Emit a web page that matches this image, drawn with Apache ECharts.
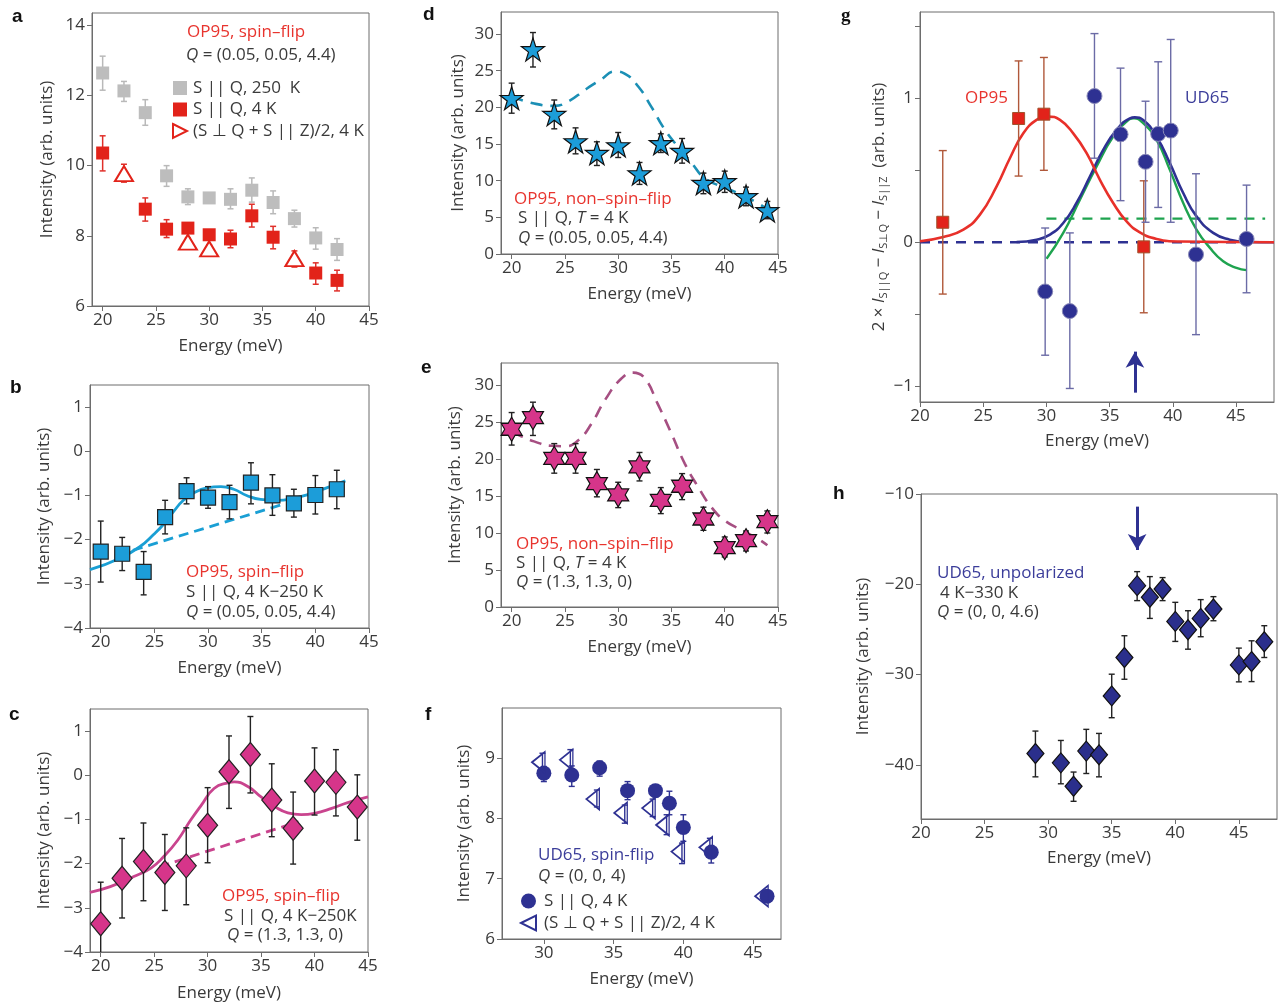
<!DOCTYPE html>
<html><head><meta charset="utf-8">
<script src="https://cdn.jsdelivr.net/npm/echarts@6/dist/echarts.min.js"></script>
<style>html,body{margin:0;padding:0;background:#fff}#c{width:1279px;height:1004px}</style>
</head><body><div id="c"></div>
<script>
// ---------- Panel a ----------
const aHotE = [20,22,24,26,28,30,32,34,36,38,40,42];
const aHotV = [12.64,12.13,11.51,9.71,9.11,9.08,9.04,9.3,8.95,8.49,7.94,7.61];
const aHotLo = [12.15,11.83,11.15,9.41,8.89,8.98,8.77,8.96,8.63,8.25,7.62,7.3];
const aHotHi = [13.12,12.4,11.88,10.0,9.34,9.18,9.34,9.65,9.28,8.73,8.23,7.92];
const aColdE = [20,24,26,28,30,32,34,36,40,42];
const aColdV = [10.36,8.76,8.19,8.22,8.03,7.91,8.57,7.96,6.94,6.73];
const aColdLo = [9.85,8.42,7.95,8.1,7.93,7.66,8.25,7.63,6.62,6.43];
const aColdHi = [10.85,9.08,8.46,8.34,8.13,8.16,8.9,8.27,7.23,7.02];
const aTriE = [22,28,30,38];
const aTriV = [9.77,7.82,7.63,7.35];
const aTriLo = [9.53,7.7,7.52,7.11];
const aTriHi = [10.04,7.94,7.74,7.57];
// ---------- Panel b ----------
const bE = [20,22,24,26,28,30,32,34,36,38,40,42];
const bV = [-2.27,-2.32,-2.73,-1.49,-0.9,-1.05,-1.15,-0.71,-1.0,-1.18,-0.99,-0.86];
const bLo = [-2.96,-2.7,-3.25,-1.87,-1.19,-1.29,-1.53,-1.19,-1.45,-1.49,-1.42,-1.3];
const bHi = [-1.58,-1.95,-2.27,-1.11,-0.6,-0.8,-0.77,-0.26,-0.53,-0.86,-0.55,-0.43];
const bFitE = [19,21.8,23.7,24.9,25.9,26.8,27.7,28.7,29.9,31.2,32.4,33.6,34.9,36.4,37.7,39.3,40.8,42.8];
const bFitV = [-2.68,-2.42,-2.15,-1.89,-1.64,-1.36,-1.11,-0.94,-0.83,-0.8,-0.86,-1.0,-1.09,-1.11,-1.08,-0.98,-0.85,-0.67];
const bBaseE = [23,37];
const bBaseV = [-2.24,-1.2];
// ---------- Panel c ----------
const cE = [20,22,24,26,28,30,32,34,36,38,40,42,44];
const cV = [-3.36,-2.33,-1.95,-2.2,-2.05,-1.13,0.08,0.47,-0.56,-1.2,-0.13,-0.16,-0.72];
const cLo = [-4.3,-3.23,-2.84,-3.06,-2.93,-1.98,-0.75,-0.4,-1.39,-2.01,-0.9,-0.92,-1.47];
const cHi = [-2.42,-1.43,-1.08,-1.34,-1.19,-0.28,0.89,1.33,0.26,-0.38,0.62,0.58,0.01];
const cFitE = [19,20.9,23.1,24.7,25.9,27.2,28.4,29.4,30.6,31.9,32.5,33.8,35,36.3,37.5,38.75,40,41.6,43.1,45];
const cFitV = [-2.65,-2.52,-2.29,-2.1,-1.84,-1.47,-1.02,-0.68,-0.3,-0.17,-0.15,-0.26,-0.49,-0.71,-0.85,-0.89,-0.86,-0.75,-0.62,-0.49];
const cBaseE = [25.5,38.5];
const cBaseV = [-2.07,-1.05];
// ---------- Panel d ----------
const dE = [20,22,24,26,28,30,32,34,36,38,40,42,44];
const dV = [21.24,27.9,19.07,15.34,13.75,14.8,10.98,15.1,14.03,9.67,9.9,7.85,5.95];
const dLo = [19.2,25.5,17.07,13.66,12.07,13.16,9.49,13.84,12.39,8.22,8.4,6.58,4.81];
const dHi = [23.3,30.2,21.0,17.2,15.3,16.57,12.48,16.39,15.75,11.03,11.3,9.12,7.17];
const dFitE = [20,22,24,25.3,26.9,28.4,29.7,30.6,31.9,33.1,34.4,35.6,36.9,38.1,39.7,41.25,43.1,44];
const dFitV = [21.47,20.56,20.2,20.8,22.4,23.8,24.9,24.6,22.8,20.1,16.9,14.66,12.4,10.35,9.2,8.3,6.94,6.04];
// ---------- Panel e ----------
const eE = [20,22,24,26,28,30,32,34,36,38,40,42,44];
const eV = [24.04,25.6,20.1,20.1,16.7,15.16,18.94,14.43,16.33,11.9,8.03,8.98,11.55];
const eLo = [21.9,23.2,18.1,18.1,14.9,13.44,17.05,12.63,14.52,10.37,6.77,7.58,10.01];
const eHi = [26.3,27.7,22.1,22.1,18.6,16.87,20.9,16.15,18.04,13.5,9.47,10.28,12.99];
const eFitE = [20,20.9,22.1,23.7,25,26.25,27.5,28.75,30.3,31.4,32.5,33.7,35,36.25,37.5,38.75,40,41.6,43.1,44];
const eFitV = [23.68,23.1,22.4,21.8,21.74,22.55,24.8,27.97,30.9,31.7,30.9,27.5,23.45,19.4,16.24,13.5,11.7,10.4,9.25,8.35];
// ---------- Panel f ----------
const fCircE = [30,32,34,36,38,39,40,42,46];
const fCircV = [8.75,8.72,8.84,8.46,8.46,8.25,7.85,7.44,6.71];
const fCircLo = [8.61,8.53,8.7,8.31,8.36,8.06,7.62,7.26,6.66];
const fCircHi = [8.86,8.87,8.95,8.61,8.56,8.45,8.06,7.55,6.76];
const fTriE = [29.9,31.9,33.8,35.8,37.8,38.8,39.9,41.9,45.9];
const fTriV = [8.93,8.97,8.32,8.09,8.17,7.89,7.45,7.52,6.71];
const fTriLo = [8.78,8.81,8.19,7.92,8.03,7.73,7.25,7.39,6.66];
const fTriHi = [9.08,9.14,8.47,8.22,8.32,8.06,7.59,7.67,6.76];
// ---------- Panel g ----------
const gOpE = [21.8,27.8,29.8,37.7];
const gOpV = [0.139,0.86,0.89,-0.032];
const gOpLo = [-0.36,0.46,0.5,-0.49];
const gOpHi = [0.637,1.26,1.284,0.427];
const gUdE = [29.9,31.85,33.8,35.86,37.84,38.84,39.83,41.83,45.83];
const gUdV = [-0.342,-0.478,1.016,0.75,0.559,0.753,0.776,-0.085,0.023];
const gUdLo = [-0.785,-1.016,0.584,0.289,0.139,0.242,0.139,-0.642,-0.351];
const gUdHi = [0.099,0.065,1.45,1.21,0.98,1.254,1.409,0.476,0.397];
const gRedFitE = [20,21.84,23.43,24.74,26.06,27.11,28.17,29.22,30.14,31.07,32.12,33.18,34.23,35.28,36.34,37.39,38.71,40.55,48];
const gRedFitV = [0.007,0.037,0.088,0.192,0.388,0.584,0.757,0.85,0.873,0.85,0.757,0.619,0.434,0.273,0.145,0.069,0.023,0.005,0];
const gNavyFitE = [27.64,29.22,30.28,31.33,32.38,33.44,34.49,35.55,36.6,37.0,37.65,38.71,39.76,40.82,41.87,43.19,44.5,45.82,48];
const gNavyFitV = [0.002,0.018,0.053,0.134,0.273,0.457,0.642,0.781,0.861,0.868,0.85,0.734,0.55,0.342,0.18,0.065,0.018,0.002,0];
const gGreenFitE = [30.01,31.33,32.65,33.97,35.28,36.34,36.92,37.65,38.71,39.76,40.82,41.87,42.93,43.98,45.03,45.82];
const gGreenFitV = [-0.115,0.065,0.296,0.527,0.734,0.838,0.861,0.827,0.711,0.503,0.273,0.088,-0.039,-0.132,-0.178,-0.194];
const gNavyBaseE = [20,46];
const gNavyBaseV = [0,0];
const gGreenBaseE = [30,47.3];
const gGreenBaseV = [0.164,0.164];
const gArrowX = 37, gArrowFrom = -1.045, gArrowTo = -0.76;
// ---------- Panel h ----------
const hE = [29,31,32,33,34,35,36,37,38,39,40,41,42,43,45,46,47];
const hV = [-38.74,-39.78,-42.37,-38.48,-38.89,-32.37,-28.11,-20.15,-21.44,-20.52,-24.11,-25.04,-23.78,-22.74,-28.93,-28.56,-26.37];
const hLo = [-41.33,-42.1,-44.04,-40.96,-41.33,-34.78,-30.52,-21.81,-23.78,-21.81,-26.33,-27.19,-25.81,-24.04,-30.81,-30.78,-28.11];
const hHi = [-36.26,-37.3,-40.8,-36.07,-36.52,-29.96,-25.7,-18.6,-19.15,-19.26,-22.0,-22.93,-21.7,-21.37,-27.07,-26.26,-24.59];
const hArrowX = 37, hArrowFrom = -11.4, hArrowTo = -16.2;
// ---------- Axis ticks ----------
const xTicksMain = [20,25,30,35,40,45];
const xTicksF = [30,35,40,45];
const yTicksA = [6,8,10,12,14];
const yTicksBC = [-4,-3,-2,-1,0,1];
const yTicksDE = [0,5,10,15,20,25,30];
const yTicksF = [6,7,8,9];
const yTicksG = [-1,-0.5,0,0.5,1,1.5];
const yLabelsG = [-1,0,1];
const yTicksH = [-40,-30,-20,-10];

const FONT = 'Open Sans';
const TXT = '#3a3a3a';
const RED = '#e8342e';
const NAVY = '#2e3192';
const FRAME = '#6d6d6d';

const zip = (a, b) => a.map((x, i) => [x, b[i]]);
const STAR5 = 'path://M50,0L61.8,35.1L98.9,35.1L68.8,56.9L80.3,92.1L50,70.4L19.7,92.1L31.2,56.9L1.1,35.1L38.2,35.1Z';
const STAR6 = 'path://M50,0L64.43,25L93.3,25L78.87,50L93.3,75L64.43,75L50,100L35.57,75L6.7,75L21.13,50L6.7,25L35.57,25Z';
const TRI_L = 'path://M0,50L100,0L100,100Z';
const TRI_R = 'path://M0,0L100,50L0,100Z';

function scatter(i, name, E, V, symbol, size, color, border, bw, extra) {
  return Object.assign({
    type: 'scatter', name, xAxisIndex: i, yAxisIndex: i, data: zip(E, V),
    symbol, symbolSize: size, z: 5,
    itemStyle: { color, borderColor: border, borderWidth: bw, opacity: 1 }
  }, extra || {});
}
function err(i, E, lo, hi, color, cap, w) {
  return {
    type: 'custom', xAxisIndex: i, yAxisIndex: i, z: 3, silent: true, clip: true,
    data: E.map((x, k) => [x, lo[k], hi[k]]),
    encode: { x: 0, y: [1, 2] },
    renderItem(params, api) {
      const p1 = api.coord([api.value(0), api.value(1)]);
      const p2 = api.coord([api.value(0), api.value(2)]);
      const st = { stroke: color, lineWidth: w || 1.4 };
      return { type: 'group', children: [
        { type: 'line', shape: { x1: p1[0], y1: p1[1], x2: p2[0], y2: p2[1] }, style: st },
        { type: 'line', shape: { x1: p1[0] - cap, y1: p1[1], x2: p1[0] + cap, y2: p1[1] }, style: st },
        { type: 'line', shape: { x1: p2[0] - cap, y1: p2[1], x2: p2[0] + cap, y2: p2[1] }, style: st }
      ]};
    }
  };
}
function curve(i, E, V, color, width, dash, smooth, z, extra) {
  return Object.assign({
    type: 'line', xAxisIndex: i, yAxisIndex: i, data: zip(E, V), showSymbol: false,
    smooth: smooth, z: z || 2, silent: true,
    lineStyle: { color, width, type: dash ? dash : 'solid' }
  }, extra || {});
}
const fmtNum = v => String(v).replace('-', '\u2212');
function xAxis(i, min, max, ticks, gap) {
  return {
    gridIndex: i, type: 'value', min, max,
    name: 'Energy (meV)', nameLocation: 'middle', nameGap: gap,
    nameTextStyle: { fontSize: 17, color: TXT, fontFamily: FONT },
    axisLine: { show: true, onZero: false, lineStyle: { color: FRAME, width: 1 } },
    axisTick: { show: true, inside: false, length: 5, customValues: ticks, lineStyle: { color: FRAME } },
    axisLabel: { customValues: ticks, fontSize: 17, color: TXT, fontFamily: FONT, margin: 6, formatter: fmtNum },
    splitLine: { show: false }
  };
}
function yAxis(i, min, max, ticks, labels, gap, name, rich) {
  return {
    gridIndex: i, type: 'value', min, max,
    name: name || 'Intensity (arb. units)', nameLocation: 'middle', nameGap: gap, nameRotate: 90,
    nameTextStyle: Object.assign({ fontSize: 17, color: TXT, fontFamily: FONT }, rich ? { rich } : {}),
    axisLine: { show: true, onZero: false, lineStyle: { color: FRAME, width: 1 } },
    axisTick: { show: true, inside: false, length: 5, customValues: ticks, lineStyle: { color: FRAME } },
    axisLabel: { customValues: labels || ticks, fontSize: 17, color: TXT, fontFamily: FONT, margin: 7, formatter: fmtNum },
    splitLine: { show: false }
  };
}
function txt(x, y, text, fill, size, extra) {
  const fs = size || 17;
  return Object.assign({
    type: 'text', x, y, z: 100, silent: true,
    style: {
      text, fill, fontSize: fs, fontFamily: FONT, verticalAlign: 'middle',
      rich: { i: { fontStyle: 'italic', fontSize: fs, fontFamily: FONT, fill } }
    }
  }, extra || {});
}
const letter = (x, y, t, serif) => ({
  type: 'text', x, y, z: 100, silent: true,
  style: { text: t, fill: '#111', fontSize: 19, fontWeight: 'bold', fontFamily: serif ? 'Liberation Serif' : 'Liberation Sans', verticalAlign: 'middle' }
});

const gridBase = { show: true, borderColor: FRAME, borderWidth: 1, backgroundColor: 'transparent' };
const grids = [
  { left: 92, top: 13, width: 277, height: 293 },
  { left: 90, top: 385, width: 279, height: 243 },
  { left: 90, top: 709, width: 278, height: 243 },
  { left: 501, top: 12, width: 277, height: 242 },
  { left: 501, top: 363, width: 277, height: 244 },
  { left: 502, top: 708, width: 279, height: 231 },
  { left: 920, top: 12, width: 354, height: 390 },
  { left: 921, top: 494, width: 356, height: 325 }
].map(g => Object.assign({}, gridBase, g));

const LA1 = 'S || Q, 250  K', LA2 = 'S || Q, 4 K', LA3 = '(S \u22a5 Q + S || Z)/2, 4 K';
const LF1 = 'S || Q, 4 K\u200b', LF2 = '(S \u22a5 Q + S || Z)/2, 4 K\u200b';

const gRich = {
  i: { fontStyle: 'italic', fontSize: 17, fontFamily: FONT, color: TXT, lineHeight: 22 },
  s: { fontSize: 11, fontFamily: FONT, color: TXT, verticalAlign: 'bottom', lineHeight: 22 }
};
const gName = '2 \u00d7 {i|I}{s|S||Q} \u2212 {i|I}{s|S\u22a5Q} \u2212 {i|I}{s|S||Z}  (arb. units)';

const CYAN = '#1c9dd9', MAG = '#d6358a';

const option = {
  animation: false,
  backgroundColor: '#fff',
  textStyle: { fontFamily: FONT },
  grid: grids,
  xAxis: [
    xAxis(0, 19, 45, xTicksMain, 32),
    xAxis(1, 19, 45, xTicksMain, 32),
    xAxis(2, 19, 45, xTicksMain, 33),
    xAxis(3, 19, 45, xTicksMain, 32),
    xAxis(4, 19, 45, xTicksMain, 32),
    xAxis(5, 27, 47, xTicksF, 32),
    xAxis(6, 20, 48, xTicksMain, 31),
    xAxis(7, 20, 48, xTicksMain, 31)
  ],
  yAxis: [
    yAxis(0, 6, 14.35, yTicksA, null, 36),
    yAxis(1, -4, 1.5, yTicksBC, null, 37),
    yAxis(2, -4, 1.5, yTicksBC, null, 37),
    yAxis(3, 0, 33, yTicksDE, null, 34),
    yAxis(4, 0, 33, yTicksDE, null, 37),
    yAxis(5, 6, 9.83, yTicksF, null, 29),
    yAxis(6, -1.11, 1.6, yTicksG, yLabelsG, 28, gName, gRich),
    yAxis(7, -46, -10, yTicksH, null, 49)
  ],
  legend: [
    {
      left: 167, top: 73, orient: 'vertical', itemGap: 1.5, itemWidth: 14, itemHeight: 14,
      selectedMode: false,
      textStyle: { fontSize: 17, color: TXT, fontFamily: FONT, lineHeight: 20, padding: [0, 0, 0, 1] },
      data: [
        { name: LA1, icon: 'rect' },
        { name: LA2, icon: 'rect' },
        { name: LA3, icon: TRI_R }
      ]
    },
    {
      left: 515, top: 886, orient: 'vertical', itemGap: 2, itemWidth: 15, itemHeight: 15,
      selectedMode: false,
      textStyle: { fontSize: 17, color: TXT, fontFamily: FONT, lineHeight: 20, padding: [0, 0, 0, 3] },
      data: [
        { name: LF1, icon: 'circle' },
        { name: LF2, icon: TRI_L }
      ]
    }
  ],
  series: [
    // a
    err(0, aHotE, aHotLo, aHotHi, '#b9b9b9', 3, 1.5),
    err(0, aColdE, aColdLo, aColdHi, '#e0302a', 3, 1.5),
    err(0, aTriE, aTriLo, aTriHi, '#e0302a', 3, 1.5),
    scatter(0, LA1, aHotE, aHotV, 'rect', 13, '#bdbdbd', '#bdbdbd', 0),
    scatter(0, LA2, aColdE, aColdV, 'rect', 13, '#e2231a', '#e2231a', 0),
    scatter(0, LA3, aTriE, aTriV, 'triangle', [18, 15], '#ffffff', '#e2231a', 2),
    // b
    curve(1, bFitE, bFitV, '#1a9fd4', 2.8, null, 0.5),
    curve(1, bBaseE, bBaseV, '#1a9fd4', 2.8, [10, 6], false),
    err(1, bE, bLo, bHi, '#222', 3, 1.4),
    scatter(1, 'b', bE, bV, 'rect', 15, CYAN, '#222', 1.2),
    // c
    curve(2, cFitE, cFitV, '#c9448e', 2.8, null, 0.5),
    curve(2, cBaseE, cBaseV, '#c9448e', 2.8, [10, 6], false),
    err(2, cE, cLo, cHi, '#222', 3, 1.4),
    scatter(2, 'c', cE, cV, 'diamond', [20, 24], MAG, '#222', 1.2),
    // d
    curve(3, dFitE, dFitV, '#1b8fb5', 2.6, [12, 8], 0.5),
    err(3, dE, dLo, dHi, '#222', 3, 1.4),
    scatter(3, 'd', dE, dV, STAR5, 23, CYAN, '#111', 1.2),
    // e
    curve(4, eFitE, eFitV, '#a64f82', 2.6, [12, 8], 0.5),
    err(4, eE, eLo, eHi, '#222', 3, 1.4),
    scatter(4, 'e', eE, eV, STAR6, [21, 24], MAG, '#111', 1.2),
    // f
    err(5, fCircE, fCircLo, fCircHi, NAVY, 3, 1.4),
    err(5, fTriE, fTriLo, fTriHi, NAVY, 3, 1.4),
    scatter(5, LF1, fCircE, fCircV, 'circle', 15, NAVY, NAVY, 0),
    scatter(5, LF2, fTriE, fTriV, TRI_L, [13, 21], 'rgba(255,255,255,0)', NAVY, 1.6, { symbolOffset: [-4, 0], z: 6 }),
    // g
    curve(6, gNavyBaseE, gNavyBaseV, '#2e3192', 2.4, [10, 8], false, 2),
    curve(6, gGreenBaseE, gGreenBaseV, '#1ea34f', 2.4, [10, 8], false, 2),
    curve(6, gGreenFitE, gGreenFitV, '#1ea34f', 2.4, null, 0.5, 2),
    curve(6, gNavyFitE, gNavyFitV, '#2e3192', 2.6, null, 0.5, 2, {
      markLine: {
        silent: true, symbol: ['none', 'arrow'], symbolSize: [14, 16], animation: false,
        lineStyle: { color: NAVY, width: 3, type: 'solid' }, label: { show: false },
        data: [[{ coord: [gArrowX, gArrowFrom] }, { coord: [gArrowX, gArrowTo] }]]
      }
    }),
    curve(6, gRedFitE, gRedFitV, '#e8302a', 2.6, null, 0.5, 2),
    err(6, gOpE, gOpLo, gOpHi, '#b0583a', 4, 1.4),
    err(6, gUdE, gUdLo, gUdHi, '#6b6ba6', 4, 1.4),
    scatter(6, 'gop', gOpE, gOpV, 'rect', 12, '#e2231a', '#a0522d', 1),
    scatter(6, 'gud', gUdE, gUdV, 'circle', 15, NAVY, '#8a8ab8', 1),
    // h
    err(7, hE, hLo, hHi, '#222', 3, 1.4),
    scatter(7, 'h', hE, hV, 'diamond', [17, 20], '#2b2f8c', '#111', 1.2, {
      markLine: {
        silent: true, symbol: ['none', 'arrow'], symbolSize: [14, 16], animation: false,
        lineStyle: { color: NAVY, width: 3, type: 'solid' }, label: { show: false },
        data: [[{ coord: [hArrowX, hArrowFrom] }, { coord: [hArrowX, hArrowTo] }]]
      }
    })
  ],
  graphic: [
    letter(12, 17, 'a'), letter(10, 388, 'b'), letter(9, 715, 'c'),
    letter(423, 15, 'd'), letter(421, 368, 'e'), letter(425, 715, 'f'),
    letter(841, 16, 'g', true), letter(833, 494, 'h'),
    // a
    txt(187, 32, 'OP95, spin\u2013flip', RED),
    txt(186, 55, '{i|Q} = (0.05, 0.05, 4.4)', TXT),
    // b
    txt(186, 572, 'OP95, spin\u2013flip', RED),
    txt(186, 592, 'S || Q, 4 K\u2212250 K', TXT),
    txt(186, 612, '{i|Q} = (0.05, 0.05, 4.4)', TXT),
    // c
    txt(222, 896, 'OP95, spin\u2013flip', RED),
    txt(224, 916, 'S || Q, 4 K\u2212250K', TXT),
    txt(227, 935, '{i|Q} = (1.3, 1.3, 0)', TXT),
    // d
    txt(514, 199, 'OP95, non\u2013spin\u2013flip', RED),
    txt(518, 218, 'S || Q, {i|T} = 4 K', TXT),
    txt(518, 238, '{i|Q} = (0.05, 0.05, 4.4)', TXT),
    // e
    txt(516, 544, 'OP95, non\u2013spin\u2013flip', RED),
    txt(516, 563, 'S || Q, {i|T} = 4 K', TXT),
    txt(516, 582, '{i|Q} = (1.3, 1.3, 0)', TXT),
    // f
    txt(538, 855, 'UD65, spin-flip', '#3b3d9a'),
    txt(538, 876, '{i|Q} = (0, 0, 4)', TXT),
    // g
    txt(965, 98, 'OP95', RED),
    txt(1185, 98, 'UD65', '#3b3d9a'),
    // h
    txt(937, 573, 'UD65, unpolarized', '#3b3d9a'),
    txt(940, 593, '4 K\u2212330 K', TXT),
    txt(937, 612, '{i|Q} = (0, 0, 4.6)', TXT)
  ]
};
const chart = echarts.init(document.getElementById('c'), null, { renderer: 'canvas' });
chart.setOption(option);
</script></body></html>
